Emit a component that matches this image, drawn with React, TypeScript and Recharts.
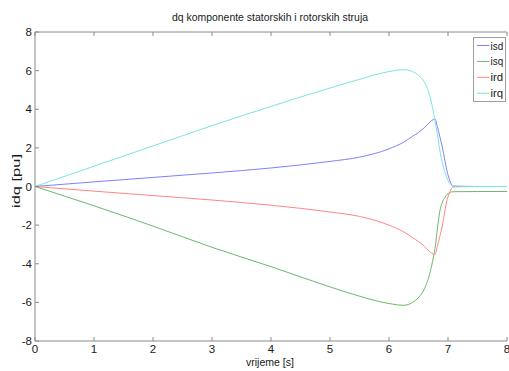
import React from 'react';
import { LineChart, Line, XAxis, YAxis, Legend } from 'recharts';

const time = [0, 1, 2, 3, 4, 5, 5.5, 6, 6.25, 6.4, 6.5, 6.6, 6.7, 6.75, 6.78, 6.82, 6.86, 6.9, 6.95, 6.98, 7.03, 7.06, 7.1, 7.5, 8];
const isd = [0, 0.24, 0.47, 0.7, 0.96, 1.3, 1.52, 1.95, 2.3, 2.6, 2.8, 3.05, 3.35, 3.47, 3.5, 3.1, 2.6, 2.1, 1.3, 0.85, 0.3, 0.1, 0.02, 0, 0];
const isq = [0, -1.0, -2.05, -3.15, -4.15, -5.2, -5.68, -6.06, -6.15, -6.0, -5.75, -5.3, -4.4, -3.7, -3.2, -2.2, -1.3, -0.85, -0.55, -0.42, -0.32, -0.28, -0.27, -0.26, -0.26];
const ird = [0, -0.24, -0.47, -0.7, -0.97, -1.32, -1.55, -2.0, -2.35, -2.65, -2.85, -3.1, -3.4, -3.5, -3.52, -3.1, -2.6, -2.1, -1.2, -0.75, -0.3, -0.1, -0.02, 0, 0];
const irq = [0, 1.05, 2.1, 3.15, 4.15, 5.1, 5.55, 5.95, 6.05, 5.95, 5.75, 5.4, 4.6, 3.9, 3.4, 2.7, 1.9, 1.3, 0.7, 0.45, 0.15, 0.06, 0.02, 0, 0];

const seriesNames = ['isd', 'isq', 'ird', 'irq'];
const seriesColors = ['#8080ff', '#6cb86c', '#ff8585', '#7ae3e3'];
const xTicks = [0, 1, 2, 3, 4, 5, 6, 7, 8];
const yTicks = [-8, -6, -4, -2, 0, 2, 4, 6, 8];
const title = 'dq komponente statorskih i rotorskih struja';
const xLabel = 'vrijeme [s]';
const yLabel = 'idq [pu]';

const data = time.map((t, i) => ({ t, isd: isd[i], isq: isq[i], ird: ird[i], irq: irq[i] }));

const FONT = '"Liberation Sans", Arial, sans-serif';
const AXIS = '#8a8a8a';
const TEXT = '#1a1a1a';
const TL = 4;

const BottomTick = (props: any) => {
  const { x, y, payload } = props;
  return (
    <g>
      <line x1={x} y1={y} x2={x} y2={y - TL} stroke={AXIS} />
      <text x={x} y={y + 12} textAnchor="middle" fontSize={11.5} fontFamily={FONT} fill={TEXT}>{payload.value}</text>
    </g>
  );
};
const TopTick = (props: any) => {
  const { x, y } = props;
  return <line x1={x} y1={y} x2={x} y2={y + TL} stroke={AXIS} />;
};
const LeftTick = (props: any) => {
  const { x, y, payload } = props;
  return (
    <g>
      <line x1={x} y1={y} x2={x + TL} y2={y} stroke={AXIS} />
      <text x={x - 3} y={y + 4} textAnchor="end" fontSize={11.5} fontFamily={FONT} fill={TEXT}>{payload.value}</text>
    </g>
  );
};
const RightTick = (props: any) => {
  const { x, y } = props;
  return <line x1={x} y1={y} x2={x - TL} y2={y} stroke={AXIS} />;
};

const TitleLabel = (props: any) => {
  const vb = props.viewBox || { x: 35, y: 0, width: 472, height: 32 };
  const cx = vb.x + vb.width / 2 - 1;
  return (
    <text x={cx} y={vb.y + 21} textAnchor="middle" fontSize={11} fontFamily={FONT} fill={TEXT} textLength={196} lengthAdjust="spacingAndGlyphs">{title}</text>
  );
};
const XLabel = (props: any) => {
  const vb = props.viewBox || { x: 35, y: 341, width: 472, height: 30 };
  const cx = vb.x + vb.width / 2 - 1;
  return (
    <text x={cx} y={vb.y + 24.5} textAnchor="middle" fontSize={11.5} fontFamily={FONT} fill={TEXT} textLength={48} lengthAdjust="spacingAndGlyphs">{xLabel}</text>
  );
};
const YLabel = (props: any) => {
  const vb = props.viewBox || { x: 0, y: 32, width: 35, height: 309 };
  const cx = vb.x + vb.width / 2 - 1;
  const cy = vb.y + vb.height / 2 - 5.5;
  return (
    <text x={cx} y={cy} dy="0.35em" transform={`rotate(-90 ${cx} ${cy})`} textAnchor="middle" fontSize={11} fontFamily={FONT} fill={TEXT} textLength={54} lengthAdjust="spacingAndGlyphs">{yLabel}</text>
  );
};

const LegendBox = () => (
  <div style={{ width: 33, height: 65, border: '1px solid #a0a0a0', background: '#fff', boxSizing: 'border-box' }}>
    <svg width={31} height={63} style={{ display: 'block' }}>
      {seriesNames.map((name, i) => (
        <g key={name}>
          <line x1={3} y1={7.5 + i * 15.9} x2={15.5} y2={7.5 + i * 15.9} stroke={seriesColors[i]} strokeWidth={1} />
          <text x={16.5} y={11.5 + i * 15.9} fontSize={11} fontFamily={FONT} fill={TEXT} textLength={12.7} lengthAdjust="spacingAndGlyphs">{name}</text>
        </g>
      ))}
    </svg>
  </div>
);

export default function App() {
  return (
    <div style={{ position: 'absolute', left: 0, top: 0, width: 509, height: 371, background: '#fff' }}>
      <LineChart width={509} height={371} data={data} margin={{ top: 0, right: 2, left: 0, bottom: 0 }}>
        <XAxis
          xAxisId="b"
          dataKey="t"
          type="number"
          domain={[0, 8]}
          ticks={xTicks}
          interval={0}
          height={30}
          tickSize={0}
          tickMargin={0}
          tickLine={false}
          stroke={AXIS}
          tick={<BottomTick />}
          allowDataOverflow
          label={<XLabel />}
        />
        <XAxis
          xAxisId="t"
          orientation="top"
          dataKey="t"
          type="number"
          domain={[0, 8]}
          ticks={xTicks}
          interval={0}
          height={32}
          tickSize={0}
          tickMargin={0}
          tickLine={false}
          stroke={AXIS}
          tick={<TopTick />}
          label={<TitleLabel />}
        />
        <YAxis
          yAxisId="l"
          type="number"
          domain={[-8, 8]}
          ticks={yTicks}
          interval={0}
          width={35}
          tickSize={0}
          tickMargin={0}
          tickLine={false}
          stroke={AXIS}
          tick={<LeftTick />}
          allowDataOverflow
          label={<YLabel />}
        />
        <YAxis
          yAxisId="r"
          orientation="right"
          type="number"
          domain={[-8, 8]}
          ticks={yTicks}
          interval={0}
          width={0}
          tickSize={0}
          tickMargin={0}
          tickLine={false}
          stroke={AXIS}
          tick={<RightTick />}
        />
        {seriesNames.map((name, i) => (
          <Line
            key={name}
            xAxisId="b"
            yAxisId="l"
            dataKey={name}
            name={name}
            type="monotone"
            stroke={seriesColors[i]}
            strokeWidth={1}
            dot={false}
            isAnimationActive={false}
          />
        ))}
        <Legend
          layout="vertical"
          align="center"
          verticalAlign="middle"
          content={<LegendBox />}
          wrapperStyle={{ position: 'absolute', left: 473, top: 37, width: 33, height: 65 }}
        />
      </LineChart>
    </div>
  );
}
